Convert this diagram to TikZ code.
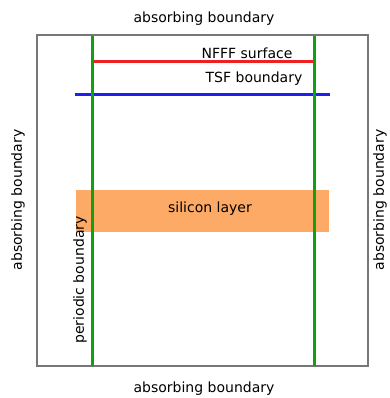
\documentclass[tikz,border=0pt]{standalone}
\usepackage{fontspec}
\setmainfont{DejaVu Sans}
\usepackage{xcolor}
\definecolor{boxGray}{HTML}{777777}
\definecolor{pbcGreen}{HTML}{10A010}
\definecolor{nfffRed}{HTML}{EE2020}
\definecolor{tsfBlue}{HTML}{2020EE}
\definecolor{siOrange}{HTML}{FDAA66}
\usetikzlibrary{positioning}
\tikzset{
  simbox/.style={
    draw=boxGray,
    line width=1.4pt
  },
  pbcline/.style={
    draw=pbcGreen,
    line width=3pt
  },
  surfline/.style={
    line width=3pt
  },
  bndlabel/.style={
    font=\fontsize{14}{16}\selectfont,
    inner sep=0pt
  }
}

\begin{document}
\begin{tikzpicture}[x=1pt,y=-1pt]
  \useasboundingbox (0,0) rectangle (389,398);
  % silicon layer
  \fill[siOrange] (76,190) rectangle (329,232);
  \node[bndlabel] (si) at (210,209) {silicon layer};
  % simulation domain
  \draw[simbox] (37,35) rectangle (368,366);
  % NFFF and TSF surfaces
  \draw[surfline,nfffRed] (94,62) -- (313,62);
  \draw[surfline,tsfBlue] (75,95) -- (330,95);
  \node[bndlabel] (nfff) at (247,53) {NFFF surface};
  \node[bndlabel] (tsf) at (254,79) {TSF boundary};
  % periodic boundaries
  \draw[pbcline] (92,36) -- (92,366);
  \draw[pbcline] (314,36) -- (314,366);
  % labels
  \node[bndlabel] (top) at (204,19) {absorbing boundary};
  \node[bndlabel] (bottom) at (204,389) {absorbing boundary};
  \node[bndlabel,rotate=90] (left) at (18,200) {absorbing boundary};
  \node[bndlabel,rotate=90] (right) at (380,200) {absorbing boundary};
  \node[bndlabel,rotate=90] (pbc) at (80,280) {periodic boundary};
\end{tikzpicture}
\end{document}
